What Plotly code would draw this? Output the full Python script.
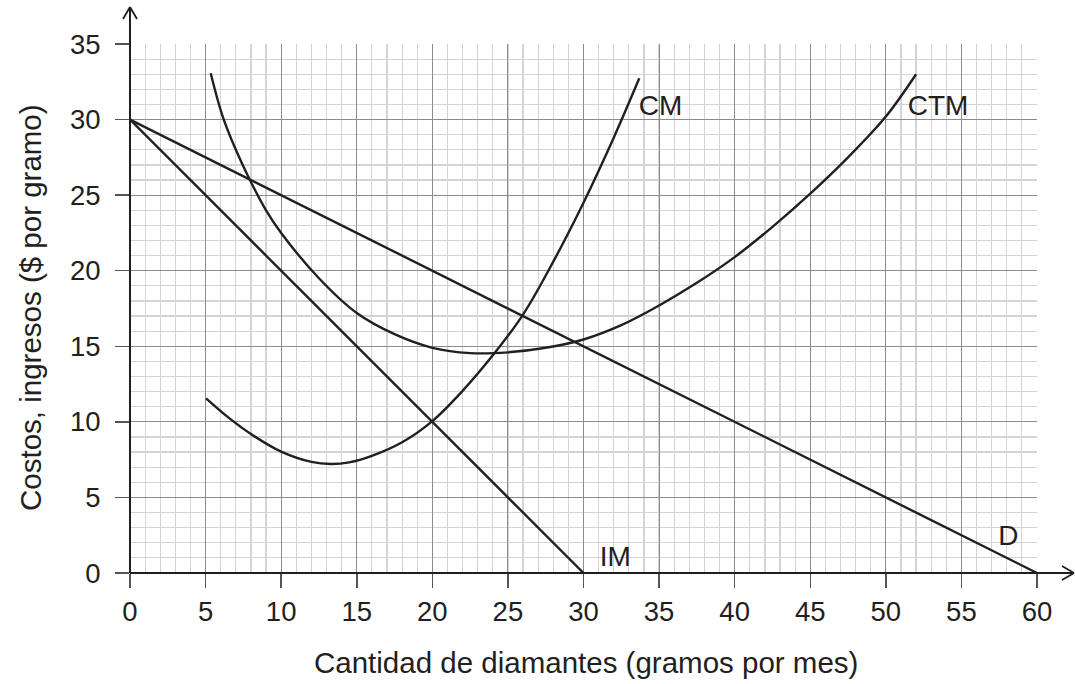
import plotly.graph_objects as go

# ---- data ----
d_x = [0, 60]
d_y = [30, 0]
im_x = [0, 30]
im_y = [30, 0]
cm_x = [5.03, 6.5, 8.0, 10.0, 12.0, 13.3, 14.5, 16.0, 18.0, 20.0, 22.0, 24.0, 26.0, 28.0, 30.0, 32.0, 33.69]
cm_y = [11.56, 10.3, 9.2, 8.03, 7.35, 7.21, 7.32, 7.75, 8.65, 10.05, 12.05, 14.4, 17.1, 20.6, 24.5, 28.8, 32.73]
ctm_x = [5.34, 6.1, 7.0, 7.9, 9.0, 10.0, 12.5, 15.0, 17.5, 20.0, 22.5, 25.0, 27.5, 30.0, 32.5, 35.0, 37.5, 40.0, 42.5, 45.0, 47.5, 50.0, 52.0]
ctm_y = [33.06, 30.3, 28.0, 26.07, 24.0, 22.5, 19.5, 17.2, 15.8, 14.9, 14.55, 14.6, 14.9, 15.45, 16.4, 17.7, 19.2, 20.9, 22.9, 25.1, 27.5, 30.2, 33.0]
labels = ["CM", "CTM", "D", "IM"]
label_x = [35.1, 53.45, 58.1, 32.1]
label_y = [30.75, 30.75, 2.3, 0.9]
x_ticks = list(range(0, 61, 5))
y_ticks = list(range(0, 36, 5))
x_title = "Cantidad de diamantes (gramos por mes)"
y_title = "Costos, ingresos ($ por gramo)"

INK = "#231f20"
FONT = "Liberation Sans, Arial, sans-serif"

W, H = 1075, 684
L, T = 130, 44
R = W - 1037
B = H - 573
PW, PH = W - L - R, H - T - B


def px2paper(px, py):
    return (px - L) / PW, (H - B - py) / PH


fig = go.Figure()
line_style = dict(color=INK, width=2.4)
fig.add_trace(go.Scatter(x=d_x, y=d_y, mode="lines", line=line_style, hoverinfo="skip"))
fig.add_trace(go.Scatter(x=im_x, y=im_y, mode="lines", line=line_style, hoverinfo="skip"))
fig.add_trace(go.Scatter(x=cm_x, y=cm_y, mode="lines",
                         line=dict(color=INK, width=2.4, shape="spline", smoothing=1.0), hoverinfo="skip"))
fig.add_trace(go.Scatter(x=ctm_x, y=ctm_y, mode="lines",
                         line=dict(color=INK, width=2.4, shape="spline", smoothing=1.0), hoverinfo="skip"))
fig.add_trace(go.Scatter(x=label_x, y=label_y, mode="text", text=labels,
                         textfont=dict(family=FONT, size=28, color=INK), textposition="middle center",
                         hoverinfo="skip", cliponaxis=False))

axis_common = dict(
    showline=False, zeroline=False,
    showgrid=True, gridcolor="#8c8c8c", gridwidth=1,
    ticks="outside", ticklen=14, tickwidth=1.5, tickcolor="#555555",
    tickfont=dict(family=FONT, size=27.5, color=INK),
    minor=dict(dtick=1, showgrid=True, gridcolor="#d4d4d4", gridwidth=1.2, ticks=""),
    fixedrange=True,
)

fig.update_xaxes(range=[0, 60], tickmode="array", tickvals=x_ticks, **axis_common)
fig.update_yaxes(range=[0, 35], tickmode="array", tickvals=y_ticks, ticklabelstandoff=9, **axis_common)

# axis lines with open arrowheads
shapes = []
x0p, y0p = px2paper(130, 573)
xe, _ = px2paper(1074, 573)
_, ye = px2paper(130, 7)
shapes.append(dict(type="line", xref="paper", yref="paper", x0=x0p, y0=y0p, x1=xe, y1=y0p, line=dict(color=INK, width=2)))
shapes.append(dict(type="line", xref="paper", yref="paper", x0=x0p, y0=y0p, x1=x0p, y1=ye, line=dict(color=INK, width=2)))
a1 = px2paper(1062, 566)
a2 = px2paper(1062, 580)
shapes.append(dict(type="line", xref="paper", yref="paper", x0=a1[0], y0=a1[1], x1=xe, y1=y0p, line=dict(color=INK, width=1.8)))
shapes.append(dict(type="line", xref="paper", yref="paper", x0=a2[0], y0=a2[1], x1=xe, y1=y0p, line=dict(color=INK, width=1.8)))
b1 = px2paper(123, 19)
b2 = px2paper(137, 19)
shapes.append(dict(type="line", xref="paper", yref="paper", x0=b1[0], y0=b1[1], x1=x0p, y1=ye, line=dict(color=INK, width=1.8)))
shapes.append(dict(type="line", xref="paper", yref="paper", x0=b2[0], y0=b2[1], x1=x0p, y1=ye, line=dict(color=INK, width=1.8)))

tx = px2paper(586, 662)
ty = px2paper(30, 308)
annotations = [
    dict(text=x_title, xref="paper", yref="paper", x=tx[0], y=tx[1], showarrow=False,
         xanchor="center", yanchor="middle", font=dict(family=FONT, size=29.5, color=INK)),
    dict(text=y_title, xref="paper", yref="paper", x=ty[0], y=ty[1], showarrow=False, textangle=-90,
         xanchor="center", yanchor="middle", font=dict(family=FONT, size=29.5, color=INK)),
]

fig.update_layout(
    width=W, height=H,
    margin=dict(l=L, r=R, t=T, b=B),
    paper_bgcolor="white", plot_bgcolor="white",
    showlegend=False,
    shapes=shapes,
    annotations=annotations,
)

fig.write_html("out.html", config={"displayModeBar": False, "staticPlot": True},
               post_script="document.body.style.margin='0';document.body.style.overflow='hidden';")
